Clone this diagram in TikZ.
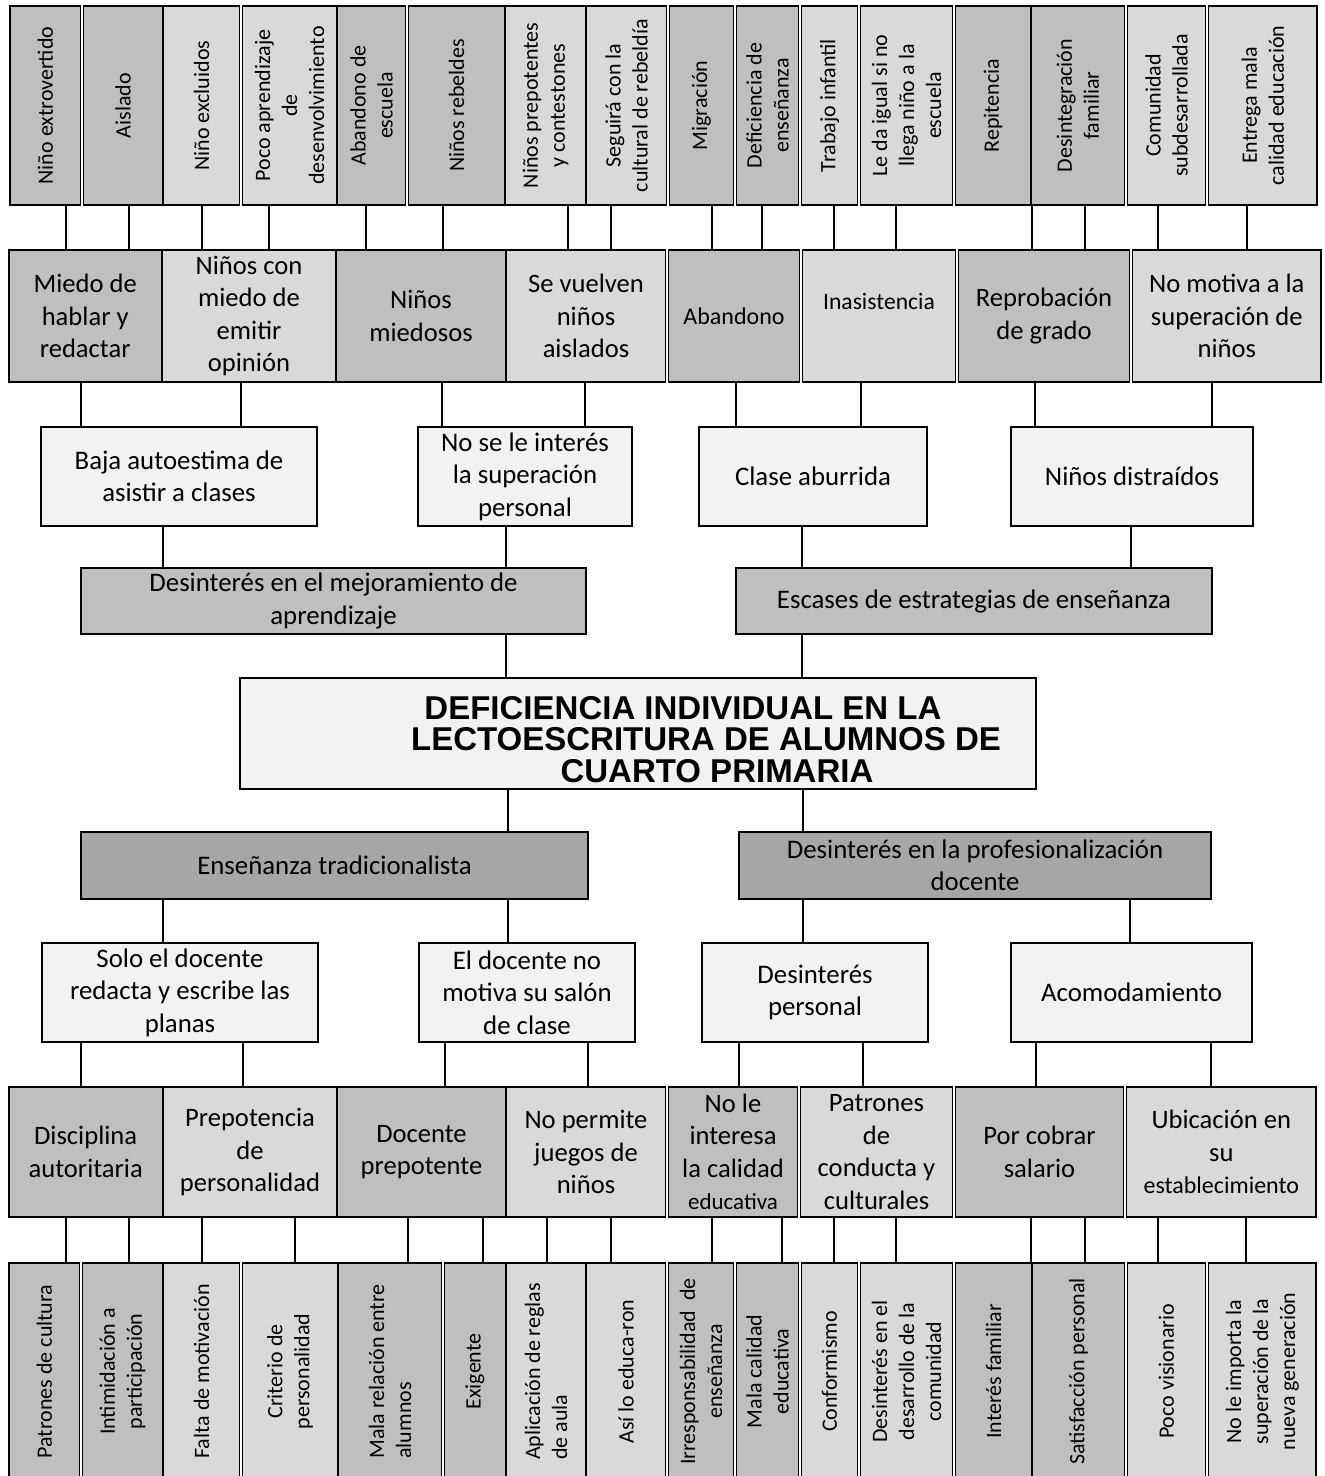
\documentclass[tikz,border=0pt]{standalone}
\usepackage{fontspec}
\setmainfont{Carlito}
\newfontfamily\titlefont{Liberation Sans}
\definecolor{cellDark}{HTML}{BFBFBF}
\definecolor{cellLight}{HTML}{D9D9D9}
\definecolor{cellPale}{HTML}{F2F2F2}
\definecolor{cellDeep}{HTML}{A6A6A6}
\tikzset{
	cell/.style={draw, line width=1.3pt, outer sep=0pt},
	vtop/.style={cell, rotate=90, minimum width=199, font=\fontsize{22}{27}\selectfont},
	vbot/.style={cell, rotate=90, minimum width=217, font=\fontsize{22}{27}\selectfont},
	hcell/.style={cell, font=\fontsize{26.6}{32.5}\selectfont},
	tbox/.style={draw, line width=1.7pt, outer sep=0pt, font=\fontsize{26.8}{32.5}\selectfont},
	dark/.style={fill=cellDark}, light/.style={fill=cellLight},
	pale/.style={fill=cellPale}, deep/.style={fill=cellDeep},
	link/.style={line width=1.3pt}
}

\begin{document}
\begin{tikzpicture}[x=1pt, y=-1pt]
	\tikzstyle{every node}=[align=center, inner sep=1pt]
	\useasboundingbox (0,0) rectangle (1325,1476);

	\node [vtop, dark, minimum height=70.4] (extro) at (45.2, 105.5) {Niño extrovertido};
	\node [vtop, dark, minimum height=78.8] (aislado) at (123, 105.5) {Aislado};
	\node [vtop, light, minimum height=75.8] (excluidos) at (201.5, 105.5) {Niño excluidos};
	\node [vtop, light, minimum height=93.8] (poco) at (289.5, 105.5) {Poco aprendizaje\\de\\desenvolvimiento};
	\node [vtop, dark, minimum height=67.8] (abandesc) at (371.5, 105.5) {Abandono de\\escuela};
	\node [vtop, dark, minimum height=95.8] (rebeldes) at (456.5, 105.5) {Niños rebeldes};
	\node [vtop, light, minimum height=79.8] (prepot) at (545.5, 105.5) {Niños prepotentes\\y contestones};
	\node [vtop, light, minimum height=79.8] (seguira) at (626.5, 105.5) {Seguirá con la\\cultural de rebeldía};
	\node [vtop, dark, minimum height=63.8] (migra) at (701.5, 105.5) {Migración};
	\node [vtop, dark, minimum height=61.8] (deficen) at (767.5, 105.5) {Deficiencia de\\enseñanza};
	\node [vtop, light, minimum height=55.8] (trabajo) at (829.5, 105.5) {Trabajo infantil};
	\node [vtop, light, minimum height=91.8] (leda) at (906.5, 105.5) {Le da igual si no\\llega niño a la\\escuela};
	\node [vtop, dark, minimum height=74.8] (repit) at (993, 105.5) {Repitencia};
	\node [vtop, dark, minimum height=92.8] (desint) at (1078, 105.5) {Desintegración\\familiar};
	\node [vtop, light, minimum height=77.8] (comun) at (1166.5, 105.5) {Comunidad\\subdesarrollada};
	\node [vtop, light, minimum height=108.4] (entrega) at (1262.8, 105.5) {Entrega mala\\calidad educación};

	\node [hcell, dark, minimum width=152.4, minimum height=132] (miedohab) at (85.2, 316) {Miedo de\\hablar y\\redactar};
	\node [hcell, light, minimum width=172.8, minimum height=132] (miedoop) at (249, 316) {Niños con\\miedo de\\emitir\\opinión};
	\node [hcell, dark, minimum width=168.8, minimum height=132] (miedosos) at (421, 316) {Niños\\miedosos};
	\node [hcell, light, minimum width=158.8, minimum height=132] (aislados) at (586, 316) {Se vuelven\\niños\\aislados};
	\node [hcell, dark, minimum width=130.8, minimum height=132, font=\fontsize{24}{30}\selectfont] (abandono) at (734, 316) {Abandono};
	\node [hcell, light, minimum width=152.8, minimum height=132, font=\fontsize{23.6}{30}\selectfont, text depth=30pt] (inasist) at (879, 316) {Inasistencia};
	\node [hcell, dark, minimum width=170.8, minimum height=132] (reprob) at (1044, 316) {Reprobación\\de grado};
	\node [hcell, light, minimum width=188.4, minimum height=132] (nomotiva) at (1226.8, 316) {No motiva a la\\superación de\\niños};

	\node [tbox, pale, minimum width=276, minimum height=99] (baja) at (179, 476.5) {Baja autoestima de\\asistir a clases};
	\node [tbox, pale, minimum width=214, minimum height=99] (nosele) at (525, 476.5) {No se le interés\\la superación\\personal};
	\node [tbox, pale, minimum width=228, minimum height=99] (aburrida) at (813, 476.5) {Clase aburrida};
	\node [tbox, pale, minimum width=242, minimum height=99] (distraidos) at (1132, 476.5) {Niños distraídos};

	\node [tbox, dark, minimum width=505, minimum height=66] (mejora) at (333.5, 601) {Desinterés en el mejoramiento de\\aprendizaje};
	\node [tbox, dark, minimum width=476, minimum height=66] (escases) at (974, 601) {Escases de estrategias de enseñanza};

	\node [tbox, pale, minimum width=796, minimum height=111, font={\titlefont\bfseries\fontsize{33}{31.5}\selectfont}] (problema) at (638, 733.5)
		{\rule{0pt}{35pt}\hspace*{90pt}DEFICIENCIA INDIVIDUAL EN LA\\\hspace*{136pt}LECTOESCRITURA DE ALUMNOS DE\\\hspace*{158pt}CUARTO PRIMARIA};

	\node [tbox, deep, minimum width=507, minimum height=67] (tradic) at (334.5, 865.5) {Enseñanza tradicionalista};
	\node [tbox, deep, minimum width=472, minimum height=67] (profes) at (975, 865.5) {Desinterés en la profesionalización\\docente};

	\node [tbox, pale, minimum width=276, minimum height=99] (solo) at (180, 992.5) {Solo el docente\\redacta y escribe las\\planas};
	\node [tbox, pale, minimum width=216, minimum height=99] (nomotsal) at (527, 992.5) {El docente no\\motiva su salón\\de clase};
	\node [tbox, pale, minimum width=226, minimum height=99] (despers) at (815, 992.5) {Desinterés\\personal};
	\node [tbox, pale, minimum width=241, minimum height=99] (acomoda) at (1131.5, 992.5) {Acomodamiento};

	\node [hcell, dark, minimum width=153.4, minimum height=130] (discip) at (85.7, 1152) {Disciplina\\autoritaria};
	\node [hcell, light, minimum width=172.8, minimum height=130] (prepers) at (250, 1152) {Prepotencia\\de\\personalidad};
	\node [hcell, dark, minimum width=167.8, minimum height=130] (docprep) at (421.5, 1152) {Docente\\prepotente};
	\node [hcell, light, minimum width=158.8, minimum height=130] (nojuegos) at (586, 1152) {No permite\\juegos de\\niños};
	\node [hcell, dark, minimum width=128.8, minimum height=130] (nocalidad) at (733, 1152) {No le\\interesa\\la calidad\\{\fontsize{23}{32}\selectfont educativa}};
	\node [hcell, light, minimum width=151.8, minimum height=130] (patrones) at (876.5, 1152) {Patrones\\de\\conducta y\\culturales};
	\node [hcell, dark, minimum width=167.8, minimum height=130] (cobrar) at (1039.5, 1152) {Por cobrar\\salario};
	\node [hcell, light, minimum width=189.4, minimum height=130] (ubica) at (1221.3, 1152) {Ubicación en\\su\\{\fontsize{24}{32}\selectfont establecimiento}};

	\node [vbot, dark, minimum height=70.4] (patcult) at (44.2, 1371.5) {Patrones de cultura};
	\node [vbot, dark, minimum height=79.8] (intimida) at (122.5, 1371.5) {Intimidación a\\participación};
	\node [vbot, light, minimum height=75.8] (falta) at (201.5, 1371.5) {Falta de motivación};
	\node [vbot, light, minimum height=94.8] (criterio) at (290, 1371.5) {Criterio de\\personalidad};
	\node [vbot, dark, minimum height=102.8, align=left] (malarel) at (390, 1371.5) {Mala relación entre\\alumnos};
	\node [vbot, dark, minimum height=60.8] (exigente) at (475, 1371.5) {Exigente};
	\node [vbot, light, minimum height=78.8, align=left] (reglas) at (546, 1371.5) {Aplicación de reglas\\de aula};
	\node [vbot, light, minimum height=78.8] (asilo) at (626, 1371.5) {Así lo educa-ron};
	\node [vbot, dark, minimum height=64.8] (irresp) at (701, 1371.5) {Irresponsabilidad\ \ de\\enseñanza};
	\node [vbot, dark, minimum height=61.8] (malacal) at (767.5, 1371.5) {Mala calidad\\educativa};
	\node [vbot, light, minimum height=55.8] (conform) at (829.5, 1371.5) {Conformismo};
	\node [vbot, light, minimum height=91.8] (desdes) at (906.5, 1371.5) {Desinterés en el\\desarrollo de la\\comunidad};
	\node [vbot, dark, minimum height=75.8] (intfam) at (993.5, 1371.5) {Interés familiar};
	\node [vbot, dark, minimum height=91.8] (satisf) at (1078.5, 1371.5) {Satisfacción personal};
	\node [vbot, light, minimum height=77.8] (pocovis) at (1166.5, 1371.5) {Poco visionario};
	\node [vbot, light, minimum height=107.4] (noimporta) at (1262.3, 1371.5) {No le importa la\\superación de la\\nueva generación};

	\draw [link] (extro.west -| 66,0) to (miedohab.north -| 66,0);
	\draw [link] (aislado.west -| 129,0) to (miedohab.north -| 129,0);
	\draw [link] (excluidos.west -| 202,0) to (miedoop.north -| 202,0);
	\draw [link] (poco.west -| 269,0) to (miedoop.north -| 269,0);
	\draw [link] (abandesc.west -| 366,0) to (miedosos.north -| 366,0);
	\draw [link] (rebeldes.west -| 443,0) to (miedosos.north -| 443,0);
	\draw [link] (prepot.west -| 568,0) to (aislados.north -| 568,0);
	\draw [link] (seguira.west -| 611,0) to (aislados.north -| 611,0);
	\draw [link] (migra.west -| 712,0) to (abandono.north -| 712,0);
	\draw [link] (deficen.west -| 762,0) to (abandono.north -| 762,0);
	\draw [link] (trabajo.west -| 834,0) to (inasist.north -| 834,0);
	\draw [link] (leda.west -| 896,0) to (inasist.north -| 896,0);
	\draw [link] (repit.west -| 1032,0) to (reprob.north -| 1032,0);
	\draw [link] (desint.west -| 1085,0) to (reprob.north -| 1085,0);
	\draw [link] (comun.west -| 1158,0) to (nomotiva.north -| 1158,0);
	\draw [link] (entrega.west -| 1247,0) to (nomotiva.north -| 1247,0);

	\draw [link] (miedohab.south -| 81,0) to (baja.north -| 81,0);
	\draw [link] (miedoop.south -| 241,0) to (baja.north -| 241,0);
	\draw [link] (miedosos.south -| 442,0) to (nosele.north -| 442,0);
	\draw [link] (aislados.south -| 585,0) to (nosele.north -| 585,0);
	\draw [link] (abandono.south -| 736,0) to (aburrida.north -| 736,0);
	\draw [link] (inasist.south -| 861,0) to (aburrida.north -| 861,0);
	\draw [link] (reprob.south -| 1035,0) to (distraidos.north -| 1035,0);
	\draw [link] (nomotiva.south -| 1212,0) to (distraidos.north -| 1212,0);

	\draw [link] (baja.south -| 163,0) to (mejora.north -| 163,0);
	\draw [link] (nosele.south -| 506,0) to (mejora.north -| 506,0);
	\draw [link] (aburrida.south -| 802,0) to (escases.north -| 802,0);
	\draw [link] (distraidos.south -| 1131,0) to (escases.north -| 1131,0);

	\draw [link] (mejora.south -| 506,0) to (problema.north -| 506,0);
	\draw [link] (escases.south -| 802,0) to (problema.north -| 802,0);
	\draw [link] (problema.south -| 508,0) to (tradic.north -| 508,0);
	\draw [link] (problema.south -| 803,0) to (profes.north -| 803,0);

	\draw [link] (tradic.south -| 163,0) to (solo.north -| 163,0);
	\draw [link] (tradic.south -| 508,0) to (nomotsal.north -| 508,0);
	\draw [link] (profes.south -| 803,0) to (despers.north -| 803,0);
	\draw [link] (profes.south -| 1130,0) to (acomoda.north -| 1130,0);

	\draw [link] (solo.south -| 81,0) to (discip.north -| 81,0);
	\draw [link] (solo.south -| 243,0) to (prepers.north -| 243,0);
	\draw [link] (nomotsal.south -| 445,0) to (docprep.north -| 445,0);
	\draw [link] (nomotsal.south -| 588,0) to (nojuegos.north -| 588,0);
	\draw [link] (despers.south -| 739,0) to (nocalidad.north -| 739,0);
	\draw [link] (despers.south -| 863,0) to (patrones.north -| 863,0);
	\draw [link] (acomoda.south -| 1036,0) to (cobrar.north -| 1036,0);
	\draw [link] (acomoda.south -| 1211,0) to (ubica.north -| 1211,0);

	\draw [link] (discip.south -| 66,0) to (patcult.east -| 66,0);
	\draw [link] (discip.south -| 129,0) to (intimida.east -| 129,0);
	\draw [link] (prepers.south -| 202,0) to (falta.east -| 202,0);
	\draw [link] (prepers.south -| 295,0) to (criterio.east -| 295,0);
	\draw [link] (docprep.south -| 408,0) to (malarel.east -| 408,0);
	\draw [link] (docprep.south -| 483,0) to (exigente.east -| 483,0);
	\draw [link] (nojuegos.south -| 547,0) to (reglas.east -| 547,0);
	\draw [link] (nojuegos.south -| 611,0) to (asilo.east -| 611,0);
	\draw [link] (nocalidad.south -| 712,0) to (irresp.east -| 712,0);
	\draw [link] (nocalidad.south -| 782,0) to (malacal.east -| 782,0);
	\draw [link] (patrones.south -| 834,0) to (conform.east -| 834,0);
	\draw [link] (patrones.south -| 896,0) to (desdes.east -| 896,0);
	\draw [link] (cobrar.south -| 1031,0) to (intfam.east -| 1031,0);
	\draw [link] (cobrar.south -| 1085,0) to (satisf.east -| 1085,0);
	\draw [link] (ubica.south -| 1158,0) to (pocovis.east -| 1158,0);
	\draw [link] (ubica.south -| 1246,0) to (noimporta.east -| 1246,0);
\end{tikzpicture}
\end{document}
